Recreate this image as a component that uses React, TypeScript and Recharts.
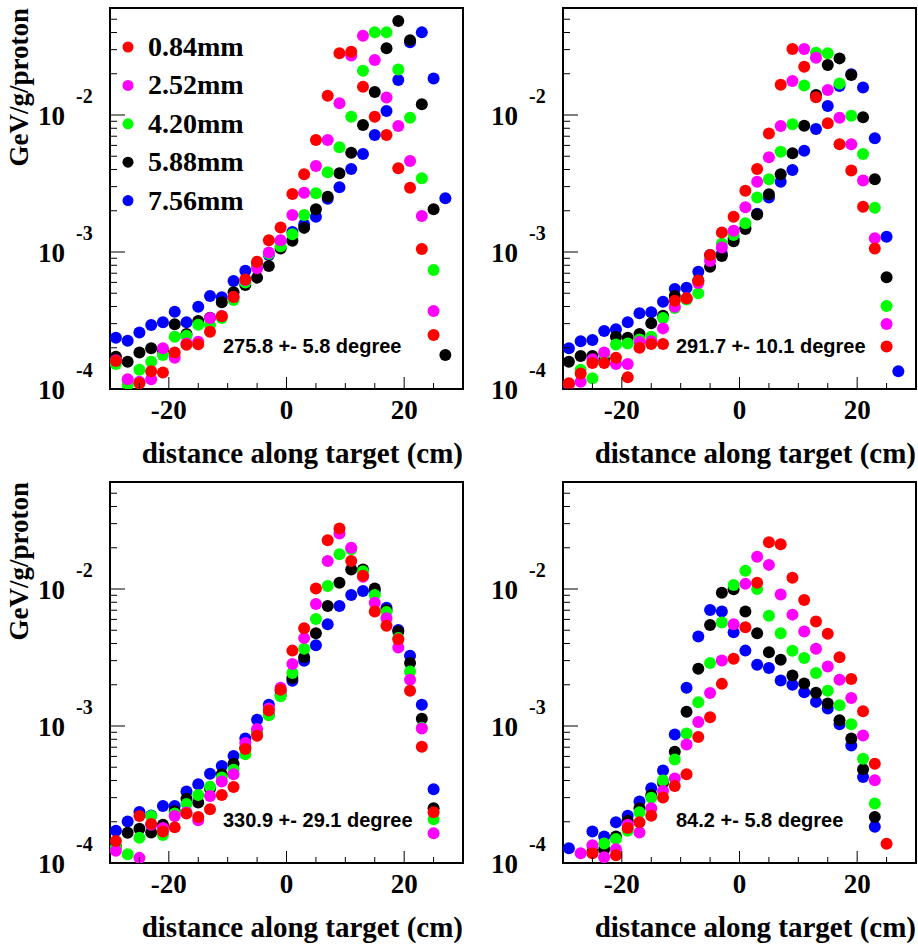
import React from "react"
import { ReferenceArea, Scatter, ScatterChart, XAxis, YAxis } from "recharts"

// positions along the target, cm
const XS = [-29, -27, -25, -23, -21, -19, -17, -15, -13, -11, -9, -7, -5, -3, -1, 1, 3, 5, 7, 9, 11, 13, 15, 17, 19, 21, 23, 25, 27]

const X_TICKS = [-25, -20, -15, -10, -5, 0, 5, 10, 15, 20, 25]
const Y_TICKS = [
  1e-4, 2e-4, 3e-4, 4e-4, 5e-4, 6e-4, 7e-4, 8e-4, 9e-4,
  1e-3, 2e-3, 3e-3, 4e-3, 5e-3, 6e-3, 7e-3, 8e-3, 9e-3,
  1e-2, 2e-2, 3e-2, 4e-2, 5e-2, 6e-2,
]
const Y_DOMAIN = [1e-4, 0.0604]

const LABELS = ["0.84mm", "2.52mm", "4.20mm", "5.88mm", "7.56mm"]
const COLORS = ["#ff0000", "#ff00ff", "#00ff00", "#000000", "#0000ff"]

// 275.8 +- 5.8 degree
const A_RED = [0.00016, null, 0.00011, 0.000135, 0.000132, 0.000185, 0.00021, 0.000212, 0.000262, 0.00034, 0.00047, 0.00063, 0.00085, 0.00122, 0.00151, 0.00265, 0.00369, 0.00658, 0.0138, 0.0282, 0.029, 0.0161, 0.00972, 0.00715, 0.00408, 0.00295, 0.00105, 0.000248, null]
const A_MAG = [0.000162, 0.000118, 0.000113, 0.000118, 0.000198, 0.000169, 0.000215, 0.000221, 0.00033, 0.000341, 0.00047, 0.000625, 0.00076, 0.00099, 0.00122, 0.00186, 0.00271, 0.00424, 0.00658, 0.0122, 0.0272, 0.0379, 0.0252, 0.0134, 0.00832, 0.00461, 0.00183, 0.000371, null]
const A_GRN = [0.000152, 0.000107, 0.000138, 0.000158, 0.000177, 0.000241, 0.000245, 0.000295, 0.000293, 0.00033, 0.000447, 0.0006, 0.00078, 0.00097, 0.0011, 0.00135, 0.00186, 0.00268, 0.00382, 0.00581, 0.00972, 0.021, 0.0401, 0.0401, 0.0215, 0.00955, 0.00345, 0.00074, null]
const A_BLK = [0.000172, 0.000158, 0.000185, 0.000198, 0.00019, 0.000297, 0.000252, 0.000313, 0.000331, 0.00043, 0.000508, 0.000574, 0.00065, 0.00079, 0.00106, 0.00121, 0.0015, 0.00205, 0.00253, 0.00375, 0.00531, 0.00845, 0.0147, 0.0307, 0.0485, 0.0352, 0.012, 0.00205, 0.000177]
const A_BLU = [0.000237, 0.000225, 0.000258, 0.000293, 0.000307, 0.000366, 0.000307, 0.000399, 0.000477, 0.000467, 0.000614, 0.00073, 0.00082, 0.00095, 0.0012, 0.0014, 0.00159, 0.00181, 0.00245, 0.00297, 0.00403, 0.00519, 0.00715, 0.0107, 0.018, 0.034, 0.0401, 0.0185, 0.00247]

// 291.7 +- 10.1 degree
const B_RED = [0.00011, 0.00013, 0.000155, 0.000155, 0.000169, 0.000122, 0.0002, 0.000213, 0.000213, 0.00044, 0.00046, 0.00062, 0.00095, 0.00139, 0.00181, 0.0028, 0.00403, 0.00734, 0.0166, 0.0303, 0.0225, 0.0135, 0.00869, 0.00611, 0.00393, 0.00214, 0.00106, 0.000204, null]
const B_MAG = [0.000108, 0.000113, 0.000165, 0.000185, 0.000152, 0.000152, 0.00022, 0.000223, 0.000277, 0.000399, 0.00046, 0.000595, 0.00086, 0.00108, 0.00143, 0.00212, 0.00326, 0.00491, 0.00832, 0.0177, 0.0303, 0.0262, 0.0152, 0.00955, 0.00611, 0.00332, 0.00126, 0.000298, null]
const B_GRN = [null, 0.000138, 0.00012, 0.00018, 0.000211, 0.000215, 0.00023, 0.000241, 0.00033, 0.00039, 0.00045, 0.0005, 0.00088, 0.00115, 0.00133, 0.00162, 0.0025, 0.00339, 0.0054, 0.00855, 0.0164, 0.0285, 0.0282, 0.017, 0.00988, 0.00519, 0.0021, 0.000404, null]
const B_BLK = [0.000158, 0.000174, 0.000174, 0.000163, 0.000241, 0.000237, 0.000252, 0.000302, 0.000343, 0.000477, 0.000454, 0.000618, 0.00078, 0.000935, 0.0012, 0.00147, 0.00188, 0.00264, 0.00369, 0.00525, 0.00836, 0.014, 0.0232, 0.0259, 0.0196, 0.00962, 0.00339, 0.000653, null]
const B_BLU = [0.000198, 0.000223, 0.000228, 0.000265, 0.000273, 0.000307, 0.000357, 0.000363, 0.000434, 0.000537, 0.000548, 0.000718, 0.00095, 0.00097, 0.00125, 0.0015, 0.0019, 0.0025, 0.00326, 0.00397, 0.00548, 0.0079, 0.01165, 0.0163, 0.0198, 0.0159, 0.00676, 0.00129, 0.000135]

// 330.9 +- 29.1 degree
const C_RED = [0.000145, null, 0.00022, 0.000193, 0.00017, 0.000182, 0.00023, 0.000217, 0.000247, 0.000313, 0.000359, 0.00068, 0.00085, 0.0013, 0.00184, 0.00355, 0.00517, 0.0101, 0.0227, 0.0276, 0.016, 0.0125, 0.00684, 0.00539, 0.0043, 0.00181, 0.000706, 0.000235, null]
const C_MAG = [0.000123, null, 0.000109, 0.00019, 0.00018, 0.00022, 0.000234, 0.000205, 0.000308, 0.000393, 0.000444, 0.00075, 0.00095, 0.00134, 0.0019, 0.00283, 0.00438, 0.00778, 0.016, 0.0254, 0.02, 0.0123, 0.00795, 0.00612, 0.00374, 0.00218, 0.00096, 0.000165, null]
const C_GRN = [0.00013, 0.000116, 0.000153, 0.00022, 0.00016, 0.00023, 0.00027, 0.000313, 0.00036, 0.00042, 0.00048, 0.000621, 0.0009, 0.0012, 0.00165, 0.00244, 0.00366, 0.00605, 0.0105, 0.0179, 0.0195, 0.0135, 0.00904, 0.0068, 0.00438, 0.0025, 0.00097, 0.000209, null]
const C_BLK = [0.000132, 0.000166, 0.000178, 0.000167, 0.00019, 0.00024, 0.000295, 0.000276, 0.000349, 0.000444, 0.00053, 0.000695, 0.0009, 0.00121, 0.00169, 0.00224, 0.00318, 0.00476, 0.00752, 0.0111, 0.0139, 0.0139, 0.0101, 0.00703, 0.0049, 0.00288, 0.00113, 0.000251, null]
const C_BLU = [0.000172, 0.000201, 0.000236, 0.000222, 0.000261, 0.000261, 0.000332, 0.000375, 0.000449, 0.00051, 0.000603, 0.00081, 0.00111, 0.00143, 0.0018, 0.00214, 0.00299, 0.00388, 0.00554, 0.00752, 0.00904, 0.00967, 0.0097, 0.00731, 0.00503, 0.00326, 0.00143, 0.000345, null]

// 84.2 +- 5.8 degree
const D_RED = [null, null, 0.000118, null, 0.000114, 0.00018, 0.000198, 0.000221, 0.000301, 0.000365, 0.000444, 0.00083, 0.00116, 0.00203, 0.0031, 0.00526, 0.0111, 0.0219, 0.0212, 0.0121, 0.00832, 0.00578, 0.00471, 0.00318, 0.0022, 0.00128, 0.00053, 0.000138, null]
const D_MAG = [null, 0.000118, 0.000135, 0.00011, 0.000126, 0.00019, 0.000167, 0.000251, 0.000336, 0.000413, 0.000733, 0.00107, 0.00174, 0.00301, 0.00553, 0.0109, 0.0172, 0.015, 0.0091, 0.0065, 0.0049, 0.00366, 0.00272, 0.00218, 0.0016, 0.000853, 0.000402, null, null]
const D_GRN = [null, null, null, 0.000139, 0.00015, 0.000172, 0.000235, 0.0003, 0.0004, 0.00057, 0.000881, 0.00149, 0.00288, 0.00569, 0.0107, 0.0136, 0.01, 0.00637, 0.00476, 0.00354, 0.00313, 0.00244, 0.00181, 0.00142, 0.00103, 0.000577, 0.000272, null, null]
const D_BLK = [null, null, 0.000121, 0.000126, 0.000156, 0.000203, 0.000251, 0.000313, 0.000386, 0.000649, 0.00127, 0.00262, 0.00547, 0.0094, 0.00995, 0.00684, 0.00476, 0.00346, 0.00305, 0.00234, 0.00204, 0.00175, 0.00146, 0.0011, 0.00081, 0.000483, 0.000217, null, null]
const D_BLU = [0.000128, null, 0.00017, 0.000156, 0.000198, 0.000221, 0.000281, 0.000351, 0.000474, 0.000867, 0.0019, 0.0045, 0.00703, 0.00684, 0.00484, 0.00355, 0.0028, 0.00265, 0.00215, 0.002, 0.00176, 0.0015, 0.00134, 0.00103, 0.00072, 0.000425, 0.000184, null, null]

const SERIF = "'Liberation Serif', 'Times New Roman', serif"
const SANS = "'Liberation Sans', Arial, sans-serif"

const toPoints = (vals: (number | null)[]) =>
  XS.map((x, i) => ({ x, y: vals[i] })).filter((d) => d.y != null)

function XTick(props: any) {
  const { x, y, payload } = props
  const v = payload.value
  const major = v % 20 === 0
  return (
    <g>
      <line x1={x} x2={x} y1={y} y2={y - (major ? 12 : 6)} stroke="#000" strokeWidth={1} />
      {major && (
        <text x={x} y={y + 30} textAnchor="middle" fontFamily={SERIF} fontWeight="bold" fontSize={27} fill="#000">
          {v}
        </text>
      )}
    </g>
  )
}

function YTick(props: any) {
  const { x, y, payload } = props
  const v = payload.value
  const e = Math.round(Math.log10(v))
  const major = Math.abs(v / Math.pow(10, e) - 1) < 1e-6
  return (
    <g>
      <line x1={x} x2={x + (major ? 15 : 7)} y1={y} y2={y} stroke="#000" strokeWidth={1} />
      {major && (
        <>
          <text x={x - 45} y={y + 10} textAnchor="end" fontFamily={SERIF} fontWeight="bold" fontSize={27} fill="#000">
            10
          </text>
          <text x={x - 34} y={y - 12} textAnchor="start" fontFamily={SERIF} fontWeight="bold" fontSize={20} fill="#000">
            {e}
          </text>
        </>
      )}
    </g>
  )
}

type PanelProps = {
  left: number
  top: number
  width: number
  height: number
  marginRight: number
  series: (number | null)[][]
  note: string
  yTitle?: boolean
  legend?: boolean
}

function Panel({ left, top, width, height, marginRight, series, note, yTitle, legend }: PanelProps) {
  // draw order: blue, black, green, magenta, red
  const order = [4, 3, 2, 1, 0]
  return (
    <div style={{ position: "absolute", left, top, width, height }}>
      <ScatterChart width={width} height={height} margin={{ top: 8, right: marginRight, bottom: height - 8 - 381 - 30, left: 50 }}>
        <XAxis
          type="number"
          dataKey="x"
          domain={[-30, 30]}
          allowDataOverflow
          ticks={X_TICKS}
          interval={0}
          height={30}
          tickLine={false}
          axisLine={false}
          tickSize={0}
          tickMargin={0}
          tick={<XTick />}
          label={{
            content: (p: any) => (
              <text
                x={p.viewBox.x + p.viewBox.width}
                y={p.viewBox.y + 74}
                textAnchor="end"
                fontFamily={SERIF}
                fontWeight="bold"
                fontSize={29}
                fill="#000"
              >
                distance along target (cm)
              </text>
            ),
          }}
        />
        <YAxis
          type="number"
          dataKey="y"
          scale="log"
          domain={Y_DOMAIN}
          allowDataOverflow
          ticks={Y_TICKS}
          interval={0}
          width={60}
          tickLine={false}
          axisLine={false}
          tickSize={0}
          tickMargin={0}
          tick={<YTick />}
          label={
            yTitle
              ? {
                  content: (p: any) => {
                    const tx = p.viewBox.x + p.viewBox.width - 82
                    const ty = p.viewBox.y
                    return (
                      <text
                        x={tx}
                        y={ty}
                        transform={`rotate(-90 ${tx} ${ty})`}
                        textAnchor="end"
                        fontFamily={SERIF}
                        fontWeight="bold"
                        fontSize={27}
                        fill="#000"
                      >
                        GeV/g/proton
                      </text>
                    )
                  },
                }
              : undefined
          }
        />
        {order.map((k) => (
          <Scatter
            key={LABELS[k]}
            name={LABELS[k]}
            data={toPoints(series[k])}
            fill={COLORS[k]}
            isAnimationActive={false}
            shape={(p: any) => <circle cx={p.cx} cy={p.cy} r={6} fill={COLORS[k]} />}
          />
        ))}
        <ReferenceArea
          x1={-30}
          x2={30}
          y1={Y_DOMAIN[0]}
          y2={Y_DOMAIN[1]}
          fill="none"
          fillOpacity={0}
          stroke="#000"
          strokeWidth={2}
          ifOverflow="visible"
        />
      </ScatterChart>
      <svg width={width} height={height} style={{ position: "absolute", left: 0, top: 0, pointerEvents: "none" }}>
        <text x={223} y={353} fontFamily={SANS} fontWeight="bold" fontSize={20} fill="#000">
          {note}
        </text>
        {legend &&
          LABELS.map((lab, i) => (
            <g key={lab}>
              <circle cx={128} cy={47 + i * 38.4} r={5.5} fill={COLORS[i]} />
              <text x={148} y={56 + i * 38.4} fontFamily={SERIF} fontWeight="bold" fontSize={28} fill="#000">
                {lab}
              </text>
            </g>
          ))}
      </svg>
    </div>
  )
}

export default function App() {
  return (
    <div style={{ position: "absolute", left: 0, top: 0, width: 918, height: 945, background: "#fff" }}>
      <Panel left={0} top={0} width={470} height={472} marginRight={7} series={[A_RED, A_MAG, A_GRN, A_BLK, A_BLU]} note="275.8 +- 5.8 degree" yTitle legend />
      <Panel left={453} top={0} width={465} height={472} marginRight={2} series={[B_RED, B_MAG, B_GRN, B_BLK, B_BLU]} note="291.7 +- 10.1 degree" />
      <Panel left={0} top={474} width={470} height={471} marginRight={7} series={[C_RED, C_MAG, C_GRN, C_BLK, C_BLU]} note="330.9 +- 29.1 degree" yTitle />
      <Panel left={453} top={474} width={465} height={471} marginRight={2} series={[D_RED, D_MAG, D_GRN, D_BLK, D_BLU]} note="84.2 +- 5.8 degree" />
    </div>
  )
}
